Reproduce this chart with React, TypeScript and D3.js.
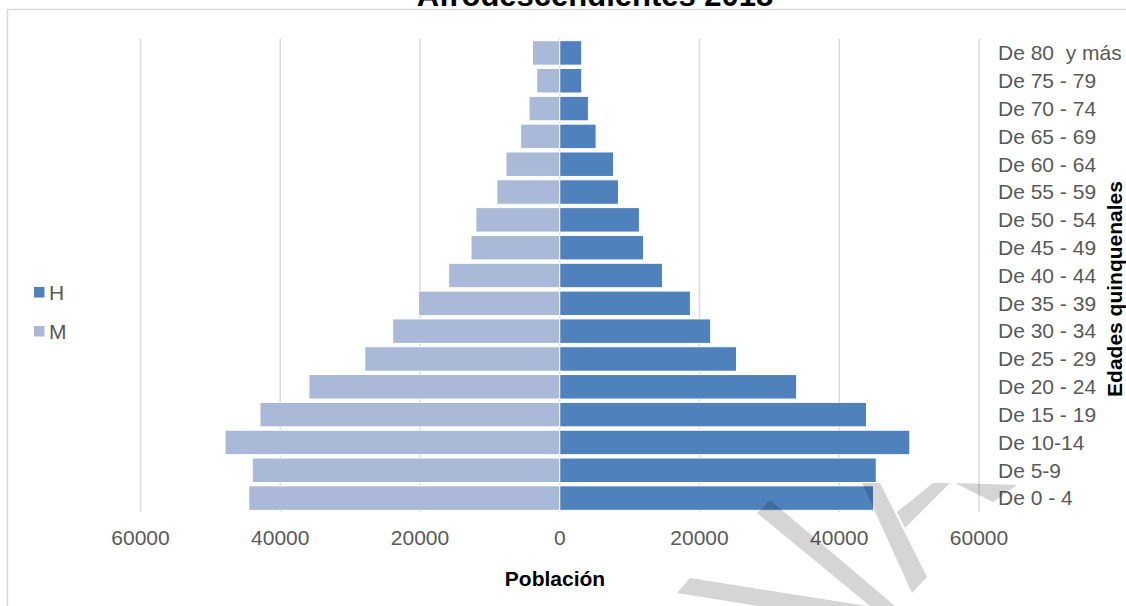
import React from "react";
import * as d3 from "d3";

// Age groups, youngest first
const categories: string[] = [
  "De 0 - 4",
  "De 5-9",
  "De 10-14",
  "De 15 - 19",
  "De 20 - 24",
  "De 25 - 29",
  "De 30 - 34",
  "De 35 - 39",
  "De 40 - 44",
  "De 45 - 49",
  "De 50 - 54",
  "De 55 - 59",
  "De 60 - 64",
  "De 65 - 69",
  "De 70 - 74",
  "De 75 - 79",
  "De 80  y más",
];

// Men (H) per age group
const hombres: number[] = [
  44900, 45300, 50100, 43900, 33900, 25300, 21600, 18700, 14700, 12000, 11400,
  8400, 7700, 5200, 4100, 3150, 3150,
];

// Women (M) per age group
const mujeres: number[] = [
  44500, 44000, 47900, 42900, 35900, 27900, 23900, 20200, 15900, 12700, 12000,
  9000, 7700, 5600, 4400, 3300, 3900,
];

const tickValues: number[] = [-60000, -40000, -20000, 0, 20000, 40000, 60000];

const seriesNames = ["H", "M"];
const seriesColors = ["#4f81bd", "#aab9d7"];

const title = "Afrodescendientes 2018";
const xTitle = "Población";
const yTitle = "Edades quinquenales";

// Faint diagonal strokes of the stamp across the lower right
const stampShapes: [number, number][][] = [
  [[757, 513], [770, 500], [895, 606], [870, 606]],
  [[862, 483], [880, 483], [927, 577], [912, 593]],
  [[897, 512], [933, 483], [950, 483], [905, 528]],
  [[955, 483], [1017, 485], [993, 502]],
  [[677, 593], [690, 578], [867, 606], [758, 606]],
];

const W = 1126;
const H = 606;
const FONT = "'Liberation Sans', Arial, Helvetica, sans-serif";

export default function App() {
  const x = d3.scaleLinear().domain([-60000, 60000]).range([140.5, 979]);
  const y = d3
    .scaleBand<string>()
    .domain([...categories].reverse())
    .range([39, 512])
    .paddingInner(0.12)
    .paddingOuter(0.06);

  const x0 = x(0);
  const bh = y.bandwidth();
  const line = d3.line();

  return (
    <svg
      width={W}
      height={H}
      style={{ position: "absolute", left: 0, top: 0, display: "block", background: "#fff" }}
      fontFamily={FONT}
    >
      <defs>
        <clipPath id="stamp-clip">
          <rect x={0} y={483} width={W} height={H - 483} />
        </clipPath>
      </defs>

      {/* chart frame */}
      <rect x={7.5} y={9.5} width={W + 20} height={H + 20} fill="#fff" stroke="#d9d9d9" strokeWidth={1.5} />

      {/* title */}
      <text x={595} y={6} textAnchor="middle" fontSize={31} fontWeight="bold" fill="#000">
        {title}
      </text>

      {/* vertical gridlines */}
      {tickValues.map((t) => (
        <line
          key={"g" + t}
          x1={x(t)}
          x2={x(t)}
          y1={39}
          y2={512}
          stroke="#d9d9d9"
          strokeWidth={1.5}
        />
      ))}

      {/* bars */}
      {categories.map((c, i) => (
        <g key={c}>
          <rect
            x={x(-mujeres[i])}
            y={y(c)}
            width={x0 - x(-mujeres[i])}
            height={bh}
            fill={seriesColors[1]}
            stroke="#fff"
            strokeWidth={1}
          />
          <rect
            x={x0}
            y={y(c)}
            width={x(hombres[i]) - x0}
            height={bh}
            fill={seriesColors[0]}
            stroke="#fff"
            strokeWidth={1}
          />
        </g>
      ))}

      {/* x tick labels */}
      {tickValues.map((t) => (
        <text
          key={"t" + t}
          x={x(t)}
          y={545}
          textAnchor="middle"
          fontSize={21}
          fill="#595959"
        >
          {Math.abs(t)}
        </text>
      ))}

      {/* category labels */}
      {categories.map((c) => (
        <text
          key={"c" + c}
          x={998}
          y={(y(c) as number) + bh / 2}
          dy="0.35em"
          fontSize={21}
          fill="#595959"
          style={{ whiteSpace: "pre" }}
        >
          {c}
        </text>
      ))}

      {/* axis titles */}
      <text x={555} y={586} textAnchor="middle" fontSize={21} fontWeight="bold" fill="#000">
        {xTitle}
      </text>
      <text
        transform={`translate(1122, 289) rotate(-90)`}
        textAnchor="middle"
        fontSize={21}
        fontWeight="bold"
        fill="#000"
      >
        {yTitle}
      </text>

      {/* legend */}
      {seriesNames.map((s, i) => (
        <g key={"l" + s} transform={`translate(34, ${287 + i * 39})`}>
          <rect width={10.5} height={10.5} fill={seriesColors[i]} />
          <text x={15} y={5.5} dy="0.35em" fontSize={21} fill="#595959">
            {s}
          </text>
        </g>
      ))}

      {/* stamp strokes */}
      <g clipPath="url(#stamp-clip)" opacity={0.16}>
        {stampShapes.map((pts, i) => (
          <path key={"s" + i} d={(line(pts) as string) + "Z"} fill="#000" />
        ))}
      </g>
    </svg>
  );
}
